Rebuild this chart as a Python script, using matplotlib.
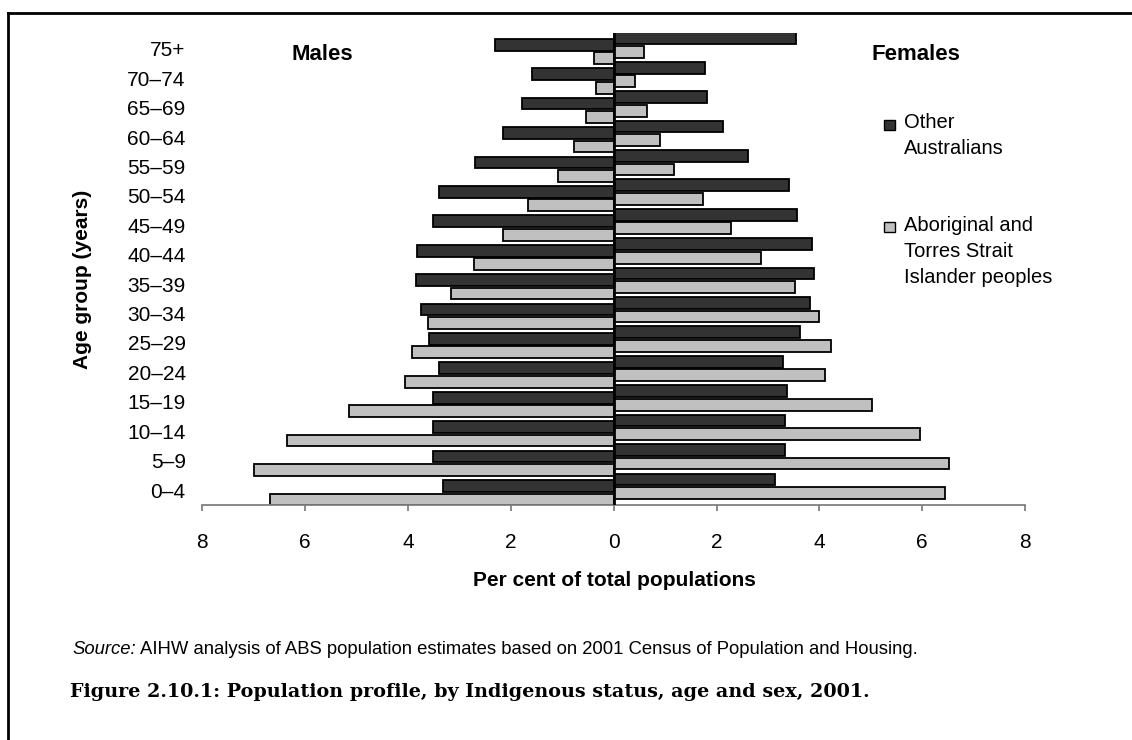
import numpy as np
import matplotlib
matplotlib.use('Agg')
import matplotlib.pyplot as plt
from matplotlib.patches import Rectangle
from matplotlib.lines import Line2D

plt.rcParams.update({
    'font.family': 'sans-serif',
    'font.sans-serif': ['Liberation Sans', 'DejaVu Sans'],
    'axes.unicode_minus': False,
})

# data, bottom (0-4) to top (75+)
age_groups = ['0–4', '5–9', '10–14', '15–19', '20–24', '25–29', '30–34', '35–39',
              '40–44', '45–49', '50–54', '55–59', '60–64', '65–69', '70–74', '75+']
male_other = [3.32, 3.52, 3.52, 3.52, 3.40, 3.59, 3.74, 3.85,
              3.82, 3.52, 3.40, 2.69, 2.15, 1.78, 1.59, 2.31]
male_indig = [6.69, 6.99, 6.35, 5.14, 4.05, 3.93, 3.62, 3.17,
              2.72, 2.15, 1.67, 1.09, 0.78, 0.53, 0.34, 0.38]
female_other = [3.14, 3.33, 3.33, 3.37, 3.29, 3.63, 3.82, 3.89,
                3.86, 3.56, 3.40, 2.61, 2.13, 1.82, 1.78, 3.55]
female_indig = [6.45, 6.53, 5.96, 5.02, 4.11, 4.23, 4.00, 3.52,
                2.87, 2.28, 1.74, 1.18, 0.91, 0.65, 0.42, 0.58]

x_ticks = [-8, -6, -4, -2, 0, 2, 4, 6, 8]

COLORS = {
    'other': '#333333',
    'indig': '#c0c0c0',
    'axis': '#808080',
}

W, H = 1132, 740
fig = plt.figure(figsize=(W / 100, H / 100), dpi=100)
fig.patch.set_facecolor('white')

ax = fig.add_axes([202.4 / W, (H - 505) / H, 822.6 / W, 472 / H])

y = np.arange(len(age_groups))
h = 0.4
gap = 0.23
off_f = 0.13    # female half sits slightly higher than the male half
off_m = -0.09

bar_kw = dict(height=h, edgecolor='black', linewidth=1.3, zorder=2)
ax.barh(y + off_f + gap, female_other, color=COLORS['other'], **bar_kw)
ax.barh(y + off_f - gap, female_indig, color=COLORS['indig'], **bar_kw)
ax.barh(y + off_m + gap, -np.array(male_other), color=COLORS['other'], **bar_kw)
ax.barh(y + off_m - gap, -np.array(male_indig), color=COLORS['indig'], **bar_kw)

ax.axvline(0, color='black', linewidth=2, zorder=3)

ax.set_xlim(-8, 8)
ax.set_ylim(-0.51, 15.54)
ax.set_xticks(x_ticks)
ax.set_xticklabels([str(abs(t)) for t in x_ticks], fontsize=15)
ax.set_yticks(y)
ax.set_yticklabels(age_groups, fontsize=15)

for s in ['top', 'right', 'left']:
    ax.spines[s].set_visible(False)
ax.spines['bottom'].set_color(COLORS['axis'])
ax.spines['bottom'].set_linewidth(1.3)
ax.tick_params(axis='x', direction='out', length=4, width=1.3,
               color=COLORS['axis'], pad=16)
ax.tick_params(axis='y', length=0, pad=12)

# axis titles
fig.text(614 / W, 1 - 581 / H, 'Per cent of total populations',
         ha='center', va='center', fontsize=15, fontweight='bold')
fig.text(83 / W, 1 - 279 / H, 'Age group (years)', rotation=90,
         ha='center', va='center', fontsize=15, fontweight='bold')

fig.text(322 / W, 1 - 55 / H, 'Males', ha='center', va='center',
         fontsize=16, fontweight='bold')
fig.text(916 / W, 1 - 55 / H, 'Females', ha='center', va='center',
         fontsize=16, fontweight='bold')

# legend drawn by hand: square next to first line of each label
fig.patches.append(Rectangle((884 / W, 1 - 130 / H), 11 / W, 10 / H,
                             transform=fig.transFigure, facecolor=COLORS['other'],
                             edgecolor='black', linewidth=1))
fig.text(904 / W, 1 - 113 / H, 'Other\nAustralians', ha='left', va='top',
         fontsize=14.5, linespacing=1.47)
fig.patches.append(Rectangle((884 / W, 1 - 232 / H), 11 / W, 10 / H,
                             transform=fig.transFigure, facecolor=COLORS['indig'],
                             edgecolor='black', linewidth=1))
fig.text(904 / W, 1 - 216 / H, 'Aboriginal and\nTorres Strait\nIslander peoples',
         ha='left', va='top', fontsize=14.5, linespacing=1.47)

# source note and caption
src = fig.text(72 / W, 1 - 654 / H, 'Source:', ha='left', va='baseline',
               fontsize=13.3, style='italic')
fig.canvas.draw()
bb = src.get_window_extent()
fig.text((bb.x1 + 4) / W, 1 - 654 / H,
         'AIHW analysis of ABS population estimates based on 2001 Census of Population and Housing.',
         ha='left', va='baseline', fontsize=13.3)
fig.text(70 / W, 1 - 697 / H,
         'Figure 2.10.1: Population profile, by Indigenous status, age and sex, 2001.',
         ha='left', va='baseline', fontsize=13.8, fontweight='bold',
         family=['DejaVu Serif'])

# page frame: top and left rules only
fig.lines.append(Line2D([8 / W, 1], [1 - 12.5 / H, 1 - 12.5 / H],
                        transform=fig.transFigure, color='black', linewidth=2))
fig.lines.append(Line2D([8 / W, 8 / W], [0, 1 - 12.5 / H],
                        transform=fig.transFigure, color='black', linewidth=2))

fig.savefig('out.png', dpi=100, facecolor='white')
plt.close(fig)
